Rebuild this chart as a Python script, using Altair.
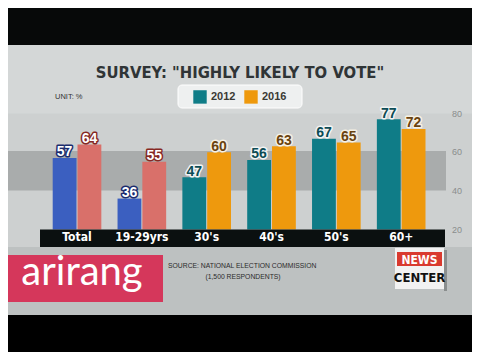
import altair as alt
import pandas as pd

# ---------------- data ----------------
categories = ["Total", "19-29yrs", "30's", "40's", "50's", "60+"]
years = ["2012", "2016"]
values_2012 = [57, 36, 47, 56, 67, 77]
values_2016 = [64, 55, 60, 63, 65, 72]
highlighted = ["Total", "19-29yrs"]
y_ticks = [20, 40, 60, 80]

title_text = 'SURVEY: "HIGHLY LIKELY TO VOTE"'
unit_text = "UNIT: %"
source_lines = ["SOURCE: NATIONAL ELECTION COMMISSION", "(1,500 RESPONDENTS)"]
logo_text = "arirang"
news_lines = ["NEWS", "CENTER"]

key_domain = ["2012", "2016", "2012h", "2016h"]
key_colors = ["#0f7c87", "#ee990d", "#3b5fc0", "#d9706a"]
text_fill = {"2012": "#0c4c55", "2016": "#6a4310", "2012h": "#ffffff", "2016h": "#ffffff"}
text_stroke = {"2012": "#f2f4f4", "2016": "#f6f1e4", "2012h": "#1b2c6e", "2016h": "#862823"}

rows = []
for i, c in enumerate(categories):
    for yr, vals in zip(years, [values_2012, values_2016]):
        key = yr + ("h" if c in highlighted else "")
        rows.append({"cat": c, "year": yr, "value": vals[i], "key": key,
                     "tfill": text_fill[key], "tstroke": text_stroke[key]})
df = pd.DataFrame(rows)
ticks_df = pd.DataFrame({"tick": y_ticks})

NARROW = "'DejaVu Sans Condensed', 'Liberation Sans Narrow', 'Roboto Condensed', 'Liberation Sans', sans-serif"
SANS = "'Liberation Sans', Arial, sans-serif"

# ---------------- geometry ----------------
OX, OY = 44.6, 113.5      # plot origin on the page
W, H = 389, 116
PAD = {"left": OX - 8, "top": OY - 8, "right": 472 - OX - W, "bottom": 352 - OY - H}


def X(x):
    return x - OX


def Y(y):
    return y - OY


one = alt.Data(values=[{"a": 1}])


def rect(x1, y1, x2, y2, color, **kw):
    return alt.Chart(one).mark_rect(color=color, **kw).encode(
        x=alt.value(X(x1)), x2=alt.value(X(x2)), y=alt.value(Y(y1)), y2=alt.value(Y(y2)))


def label(txt, x, y, size, color, align="center", baseline="middle", font=SANS,
          weight="normal"):
    return alt.Chart(one).mark_text(text=txt, align=align, baseline=baseline, fontSize=size,
                                    color=color, font=font, fontWeight=weight).encode(
        x=alt.value(X(x)), y=alt.value(Y(y)))


# ---------------- background decoration ----------------
bg = [
    rect(0, 0, 480, 45, "#070909"),
    rect(0, 45, 480, 113.5, "#d4d7d7"),
    rect(0, 247, 480, 315, "#bdc1c1"),
    rect(0, 315, 480, 360, "#000000"),
    rect(0, 151, 446, 190.5, "#a9acac"),   # darker 40-60 band
]
axis_band = rect(40, 229.5, 445, 247, "#0b1010")

# ---------------- bars ----------------
x_enc = alt.X("cat:N", sort=categories,
              scale=alt.Scale(paddingInner=0.25, paddingOuter=0.125),
              axis=alt.Axis(title=None, orient="bottom", domain=False, ticks=False, labelAngle=0,
                            labelColor="white", labelFontSize=12, labelFontWeight="bold",
                            labelFont=NARROW, labelPadding=1.5, zindex=2))
xo_enc = alt.XOffset("year:N", sort=years, scale=alt.Scale(paddingInner=0.04))
y_enc = alt.Y("value:Q", scale=alt.Scale(domain=[20, 80], nice=False, zero=False), axis=None)

bars = alt.Chart(df).mark_bar().encode(
    x=x_enc, xOffset=xo_enc, y=y_enc, y2=alt.datum(20),
    color=alt.Color("key:N", scale=alt.Scale(domain=key_domain, range=key_colors),
                    legend=alt.Legend(values=["2012", "2016"], orient="none",
                                      legendX=X(193), legendY=Y(89.8), direction="horizontal",
                                      title=None, symbolType="square", symbolSize=180,
                                      symbolStrokeWidth=0, symbolOpacity=1,
                                      labelFontSize=11, labelFontWeight="bold",
                                      labelColor="#3a3a34", labelFont=SANS,
                                      labelOffset=4, columnPadding=8, padding=0, zindex=2)))

# right-hand value scale labels, placed through the y scale
y_labels = alt.Chart(ticks_df).mark_text(align="left", baseline="middle", fontSize=9,
                                         color="#8a8d8d", font=SANS).encode(
    y="tick:Q", x=alt.value(X(452)), text="tick:Q")

txt_common = dict(baseline="alphabetic", dy=-1.5, fontSize=14, fontWeight="bold", font=SANS)
val_outline = alt.Chart(df).mark_text(strokeWidth=3, strokeJoin="round", **txt_common).encode(
    x=alt.X("cat:N", sort=categories), xOffset=alt.XOffset("year:N", sort=years),
    y="value:Q", text="value:Q",
    stroke=alt.Stroke("tstroke:N", scale=None), fill=alt.Fill("tstroke:N", scale=None))
val_fill = alt.Chart(df).mark_text(**txt_common).encode(
    x=alt.X("cat:N", sort=categories), xOffset=alt.XOffset("year:N", sort=years),
    y="value:Q", text="value:Q",
    fill=alt.Fill("tfill:N", scale=None))

# ---------------- foreground decoration ----------------
legend_box = rect(178, 85, 302, 108, "#eef0f0", cornerRadius=4, stroke="#ffffff", strokeWidth=1)
title = label(title_text, 240, 72.5, 16.5, "#2f3436", font=NARROW, weight="bold")
unit = label(unit_text, 55, 97, 7.5, "#333333", align="left")
logo_rect = rect(0, 255, 163, 302, "#d5375b")
logo = label(logo_text, 82, 285, 40, "#ffffff", baseline="alphabetic", font="Lato")
src1 = label(source_lines[0], 168, 265.5, 6.8, "#2b2b2b", align="left")
src2 = label(source_lines[1], 243, 276.5, 6.8, "#2b2b2b")
news_shadow = rect(444, 250, 447, 291, "#8a8e8e")
news_box = rect(395, 248, 444, 289, "#f2f2f2")
news_red = rect(397, 252, 442, 266, "#d93a2f")
news1 = label(news_lines[0], 419.5, 259.5, 12, "#ffffff", font=NARROW, weight="bold")
news2 = label(news_lines[1], 419.5, 277.5, 13, "#111111", font=NARROW, weight="bold")

chart = alt.layer(
    *bg, legend_box, bars, axis_band, y_labels, val_outline, val_fill,
    title, unit, logo_rect, logo, src1, src2, news_shadow, news_box, news_red, news1, news2
).properties(
    width=W, height=H, padding=PAD, autosize=alt.AutoSizeParams(type="none"),
    background="#cdd0d0"
).configure_view(stroke=None)

chart.save("out.html", embed_options={"renderer": "svg", "actions": False})
